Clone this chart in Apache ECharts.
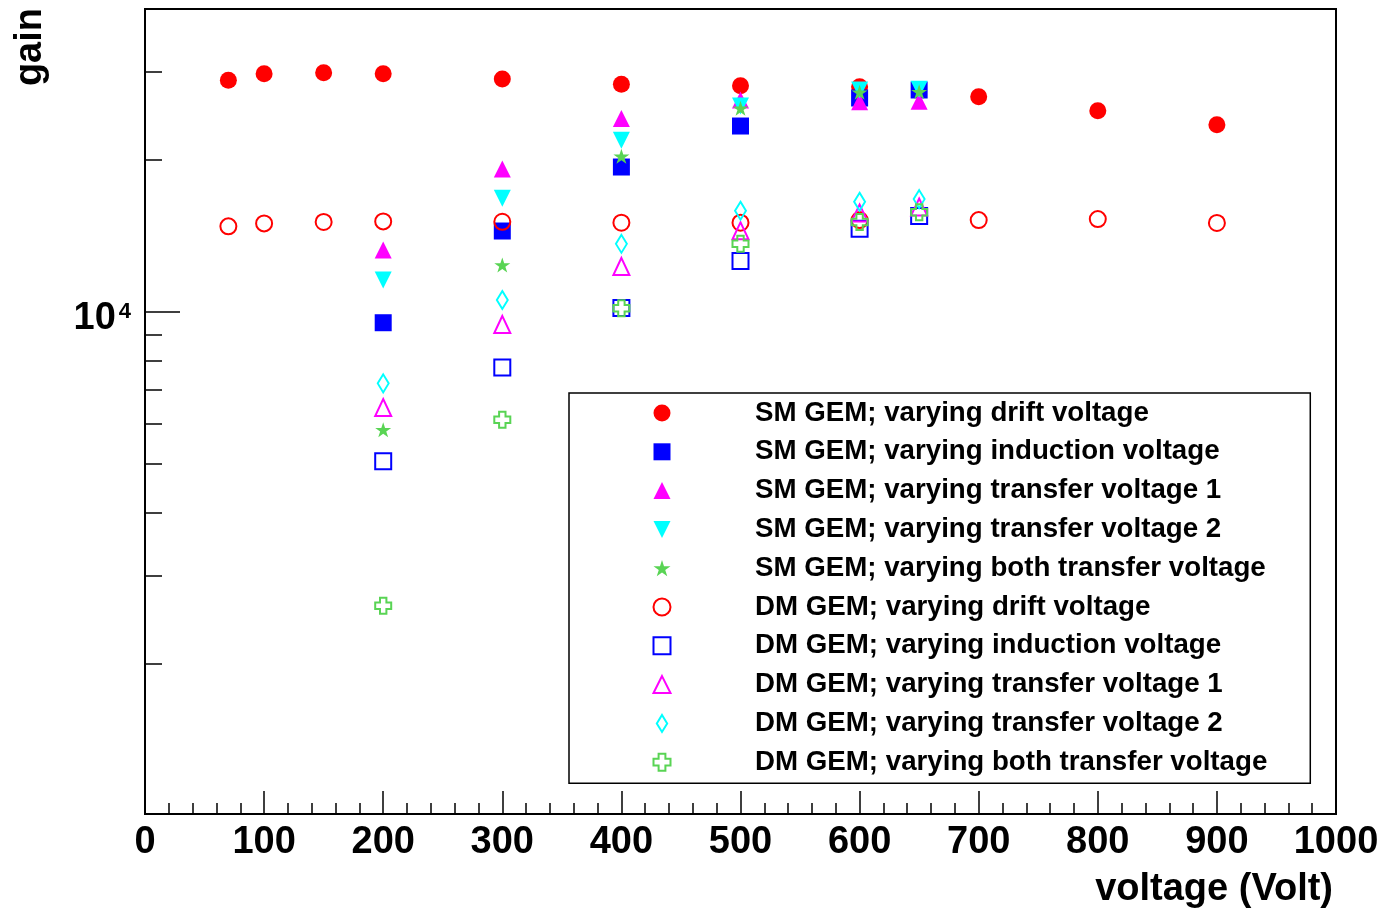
<!DOCTYPE html>
<html>
<head>
<meta charset="utf-8">
<script src="https://cdn.jsdelivr.net/npm/echarts@6/dist/echarts.min.js"></script>
<style>
html,body{margin:0;padding:0;background:#fff;}
#chart{width:1388px;height:908px;}
</style>
</head>
<body>
<div id="chart"></div>
<script>
// ---- data ----
const DRIFT_VOLTAGES = [70, 100, 150, 200, 300, 400, 500, 600, 700, 800, 900];
const SCAN_VOLTAGES = [200, 300, 400, 500, 600, 650];

const SM_DRIFT = [28780, 29670, 29810, 29670, 28950, 28270, 28080, 27950, 26700, 25050, 23500];
const SM_INDUCTION = [9510, 14460, 19370, 23360, 26550, 27540];
const SM_TRANSFER1 = [13260, 19190, 24190, 26300, 26100, 26150];
const SM_TRANSFER2 = [11560, 16790, 21880, 25590, 27540, 27630];
const SM_BOTH = [5832, 12380, 20340, 25330, 27250, 27330];

const DM_DRIFT = [14770, 14970, 15070, 15110, 15080, 15020, 15020, 15200, 15200, 15270, 15000];
const DM_INDUCTION = [5049, 7750, 10170, 12610, 14610, 15480];
const DM_TRANSFER1 = [6455, 9437, 12300, 14480, 15700, 16140];
const DM_TRANSFER2 = [7210, 10550, 13640, 15860, 16530, 16730];
const DM_BOTH = [2610, 6106, 10160, 13640, 15070, 15750];

const SERIES_NAMES = [
  'SM GEM; varying drift voltage',
  'SM GEM; varying induction voltage',
  'SM GEM; varying transfer voltage 1',
  'SM GEM; varying transfer voltage 2',
  'SM GEM; varying both transfer voltage',
  'DM GEM; varying drift voltage',
  'DM GEM; varying induction voltage',
  'DM GEM; varying transfer voltage 1',
  'DM GEM; varying transfer voltage 2',
  'DM GEM; varying both transfer voltage'
];

const X_MIN = 0, X_MAX = 1000, X_INTERVAL = 100;
const Y_MIN = 1008, Y_MAX = 39870;
const Y_MINOR_TICKS = [2000, 3000, 4000, 5000, 6000, 7000, 8000, 9000, 20000, 30000];
const Y_MAJOR_TICKS = [10000];

// ---- styles ----
const FONT = '"Liberation Sans", Helvetica, Arial, sans-serif';
const RED = '#ff0000', BLUE = '#0000ff', MAGENTA = '#ff00ff', CYAN = '#00ffff', GREEN = '#59d454';
const STAR = 'path://M0,-100L22.45,-30.9L95.11,-30.9L36.33,11.8L58.78,80.9L0,38.2L-58.78,80.9L-36.33,11.8L-95.11,-30.9L-22.45,-30.9Z';
const CROSS = 'path://M3,0L7,0L7,3L10,3L10,7L7,7L7,10L3,10L3,7L0,7L0,3L3,3Z';
const TRI_DOWN = 'path://M0,0L17,0L8.5,17Z';
const DIAMOND = 'path://M5.5,0L11,9L5.5,18L0,9Z';

function zip(xs, ys) { return xs.map((x, i) => [x, ys[i]]); }

const markerDefs = [
  { x: DRIFT_VOLTAGES, y: SM_DRIFT, symbol: 'circle', size: 17, fill: RED },
  { x: SCAN_VOLTAGES, y: SM_INDUCTION, symbol: 'rect', size: 17, fill: BLUE },
  { x: SCAN_VOLTAGES, y: SM_TRANSFER1, symbol: 'triangle', size: 17, fill: MAGENTA },
  { x: SCAN_VOLTAGES, y: SM_TRANSFER2, symbol: TRI_DOWN, size: 17, fill: CYAN },
  { x: SCAN_VOLTAGES, y: SM_BOTH, symbol: STAR, size: [16, 15], fill: GREEN },
  { x: DRIFT_VOLTAGES, y: DM_DRIFT, symbol: 'circle', size: 16, stroke: RED },
  { x: SCAN_VOLTAGES, y: DM_INDUCTION, symbol: 'rect', size: 16, stroke: BLUE },
  { x: SCAN_VOLTAGES, y: DM_TRANSFER1, symbol: 'triangle', size: [16, 17], stroke: MAGENTA },
  { x: SCAN_VOLTAGES, y: DM_TRANSFER2, symbol: DIAMOND, size: [11, 18], stroke: CYAN },
  { x: SCAN_VOLTAGES, y: DM_BOTH, symbol: CROSS, size: [16, 16], stroke: GREEN }
];

const series = markerDefs.map((d, i) => ({
  name: SERIES_NAMES[i],
  type: 'scatter',
  xAxisIndex: 0,
  yAxisIndex: 0,
  symbol: d.symbol,
  symbolSize: d.size,
  itemStyle: d.fill
    ? { color: d.fill, opacity: 1, borderWidth: 0 }
    : { color: 'rgba(255,255,255,0)', borderColor: d.stroke, borderWidth: 2, opacity: 1 },
  emphasis: { disabled: true },
  data: zip(d.x, d.y),
  z: 2 + i
}));

const chart = echarts.init(document.getElementById('chart'), null, { renderer: 'canvas' });

const option = {
  animation: false,
  backgroundColor: '#ffffff',
  grid: {
    left: 145, right: 52, top: 9, bottom: 94,
    show: true, borderColor: '#000', borderWidth: 2, backgroundColor: 'transparent',
    containLabel: false, outerBoundsMode: 'none'
  },
  xAxis: {
    type: 'value', min: X_MIN, max: X_MAX, interval: X_INTERVAL,
    axisLine: { show: true, onZero: false, lineStyle: { color: '#000', width: 2 } },
    axisTick: { show: true, inside: true, length: 23, lineStyle: { color: '#000', width: 1.5 } },
    minorTick: { show: true, splitNumber: 5, length: 11, lineStyle: { color: '#000', width: 1.5 } },
    splitLine: { show: false },
    axisLabel: {
      show: true, margin: 10, color: '#000', fontSize: 38, fontWeight: 'bold', fontFamily: FONT,
      showMinLabel: true, showMaxLabel: true, lineHeight: 38,
      formatter: function (v) { return String(v); }
    }
  },
  yAxis: [
    {
      type: 'log', logBase: 10, min: Y_MIN, max: Y_MAX, position: 'left',
      axisLine: { show: true, onZero: false, lineStyle: { color: '#000', width: 2 } },
      axisTick: { show: true, inside: true, length: 17, customValues: Y_MINOR_TICKS, lineStyle: { color: '#000', width: 1.5 } },
      minorTick: { show: false },
      axisLabel: { show: false },
      splitLine: { show: false }
    },
    {
      type: 'log', logBase: 10, min: Y_MIN, max: Y_MAX, position: 'left',
      axisLine: { show: false },
      axisTick: { show: true, inside: true, length: 35, customValues: Y_MAJOR_TICKS, lineStyle: { color: '#000', width: 1.5 } },
      minorTick: { show: false },
      splitLine: { show: false },
      axisLabel: {
        show: true, customValues: Y_MAJOR_TICKS, margin: 14,
        padding: [6, 0, 0, 0],
        formatter: function () { return '{a|10}{b|4}'; },
        rich: {
          a: { fontSize: 38, fontWeight: 'bold', fontFamily: FONT, color: '#000', lineHeight: 38, padding: [8, 0, 0, 0] },
          b: { fontSize: 22, fontWeight: 'bold', fontFamily: FONT, color: '#000', lineHeight: 22, padding: [0, 0, 6, 3] }
        }
      }
    }
  ],
  legend: {
    show: true,
    orient: 'vertical',
    left: 569, top: 393,
    padding: [6, 43, 7, 83.5],
    itemWidth: 17, itemHeight: 17,
    itemGap: 10.8,
    symbolKeepAspect: true,
    backgroundColor: '#fff',
    borderColor: '#000', borderWidth: 1.5,
    selectedMode: false,
    textStyle: { fontSize: 27.7, fontWeight: 'bold', fontFamily: FONT, color: '#000', lineHeight: 28, padding: [0, 0, 0, 79.5] },
    data: SERIES_NAMES
  },
  graphic: [
    {
      type: 'text', x: 1333, y: 890, z: 100,
      style: { text: 'voltage (Volt)', font: 'bold 38px ' + FONT, fill: '#000', textAlign: 'right', textVerticalAlign: 'middle' }
    },
    {
      type: 'text', x: 31, y: 8, rotation: Math.PI / 2, z: 100,
      style: { text: 'gain', font: 'bold 38px ' + FONT, fill: '#000', textAlign: 'right', textVerticalAlign: 'middle' }
    }
  ],
  series: series
};

chart.setOption(option);
</script>
</body>
</html>
